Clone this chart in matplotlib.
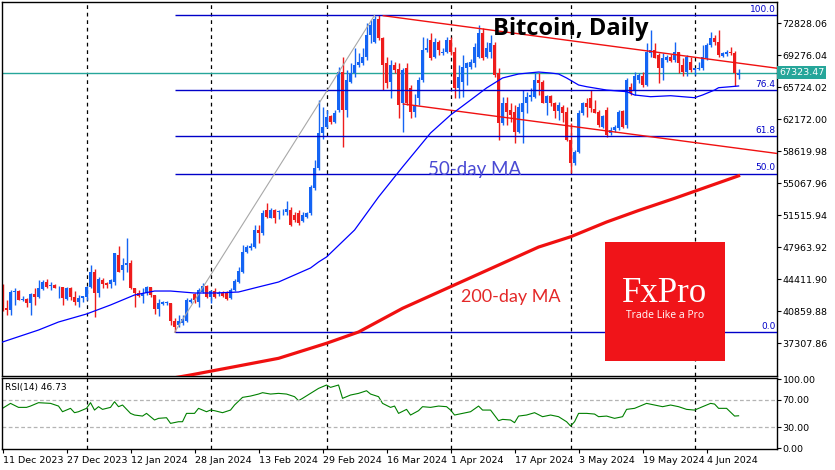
from matplotlib.patches import Rectangle
import matplotlib.pyplot as plt
import numpy as np

W,H=835,470
BULL='#1464F4'
BEAR='#EE1C1C'
FIB='#0000C8'
TEAL='#26A69A'

#Daily OHLC, 11 Dec 2023 .. 12 Jun 2024 (one bar per day).
opens=[43780,41190,41000,43040,43150,42110,42270,41740,42740,42480,
       43340,44070,43670,43780,43520,43600,42260,43410,42480,41860,
       42300,42480,43600,45260,42850,44330,43970,43900,44150,47110,
       45440,46000,46180,43410,42850,42560,42930,43520,42670,41080,
       41700,41750,41740,39820,39340,39600,39820,41930,42780,41930,
       43040,43670,42480,43150,42780,42930,42850,42300,43220,44150,
       45260,47480,47920,48030,49880,49510,52100,51250,52100,51900,
       51950,51920,52100,51600,51730,50920,51360,51730,54500,56730,
       60620,61350,62540,61910,63200,67460,63200,66350,67270,68200,
       68380,69120,71530,70790,73270,71160,68380,66350,68200,67720,
       63940,67830,65610,63020,64500,66530,69860,70970,69120,70790,
       69500,69680,70970,69680,65610,66350,67830,68010,68380,69120,
       71710,69120,69680,70400,67270,61720,63940,63200,63020,60800,
       63020,63940,64680,64680,66530,66350,64030,64760,64000,63130,
       63570,63020,59870,57280,58580,62830,63940,64500,63290,63020,
       61350,63200,60610,60980,61170,63110,61540,65790,65330,66530,
       67000,65980,69490,69860,69310,67830,68750,69120,68750,69600,
       68200,67460,68570,67640,67700,67830,68940,70420,71160,70790,
       69200,69400,69680,69490,67100]
highs=[43850,42100,43220,43410,43220,42560,42370,42850,43480,44330,
       44330,44440,44070,43930,43700,43600,43560,43560,43110,42670,
       42600,43700,46000,45560,44700,44520,44150,44500,47370,48100,
       46740,49030,46550,43450,43200,43410,43670,43600,42670,42230,
       41950,42000,41800,40080,40450,40450,42300,42300,42850,43410,
       43960,43780,43220,43400,43100,43100,43100,43400,44400,45820,
       48220,48220,48400,50440,50440,52100,52850,52290,52220,52100,
       52220,53100,52470,51900,52100,51920,51920,54880,57650,64310,
       63500,63200,62700,63200,68010,69120,67640,68380,70050,69490,
       70050,72820,73190,73640,73700,71340,69120,68750,68570,68380,
       67830,68380,65980,65000,66900,71340,71160,71700,71160,71000,
       70100,71300,71340,70230,68200,69310,68570,68900,70600,72640,
       72270,70790,71530,70800,67830,64680,64680,63940,63760,63940,
       65420,65240,65600,67270,67270,66530,64870,64900,64130,64130,
       63760,63570,61720,58760,63200,64130,64500,65420,64310,63200,
       62650,63570,61350,61500,63200,63200,66720,66160,67460,67270,
       67460,70600,72080,70600,69490,69490,69310,69400,70790,69680,
       68940,69310,69120,67900,68570,70420,70600,71900,71530,72080,
       69680,69860,70230,69750,67700]
lows=[40900,40450,40450,41560,42110,42000,41370,40450,41560,42300,
      43230,43410,43230,43410,42370,41560,42110,42110,41560,41370,
      41930,42110,43410,40260,42480,43410,43410,43500,43780,45260,
      44330,45260,43300,41300,42400,41740,42660,42480,40560,40300,
      41600,41600,39340,38530,39150,39340,39700,41800,41750,41370,
      42850,42300,41740,42300,42600,42400,42100,42200,43100,43960,
      45070,47300,47660,47850,48400,49330,51180,51180,50620,51100,
      51600,51550,50370,50800,50440,50810,51180,51550,54330,56500,
      60000,61170,61700,61720,63000,59130,62460,66160,66900,68010,
      68200,68750,70600,70600,70970,65420,65610,64500,67270,62280,
      60800,63760,62280,62460,63760,66350,69680,68800,68940,69300,
      69300,69500,69300,64500,64500,64680,65980,67800,68000,68940,
      68750,68940,68940,66900,59870,61540,61540,61910,59500,60610,
      59500,62830,64200,64500,64900,63940,62650,63700,62280,62090,
      61900,59800,56170,57100,58390,62650,62460,63020,62830,61350,
      61170,60240,60430,60800,60980,61170,61170,64870,64870,66160,
      65790,65900,69120,68940,66160,66530,68570,68570,68570,67270,
      67000,67000,67460,67100,67640,67640,68750,70230,70420,69120,
      69120,69240,69310,65870,66700]
closes=[41190,41000,43040,43150,42110,42270,41740,42740,42480,43480,
        44070,43600,43780,43410,43600,42300,43410,42480,41930,42300,
        42600,43600,45260,42850,44450,43850,43780,44300,47290,45260,
        46000,46180,43410,42850,42600,42930,43520,42670,41080,41740,
        41850,41860,39820,39150,39820,39970,42110,42110,42110,43220,
        43670,42410,43150,42480,42930,42560,42230,43220,44260,45370,
        47480,48030,48100,49880,49510,51730,51300,52100,51180,52030,
        52030,52220,50440,51000,50620,51600,51730,54690,56730,60610,
        61350,62460,61910,62830,67460,63200,66530,67270,68200,68500,
        69120,71530,72640,73270,71160,68200,66160,68200,67640,63760,
        67640,63940,63020,63760,66530,69860,70050,68940,70790,69860,
        69680,70970,69680,65610,66900,68010,68380,68570,70230,71710,
        68940,70050,70600,67090,61720,63940,63020,62650,60800,63570,
        63940,64680,64900,66530,66240,64030,64760,63940,63130,63760,
        62910,59870,57280,58580,62830,63940,63570,63390,62910,61540,
        62540,60430,60980,61350,63020,61350,66530,65050,66950,67090,
        65980,69680,69860,68940,67830,68940,69120,68640,69680,68380,
        67460,69120,67640,67830,67830,69120,70420,71160,70790,69310,
        69490,69680,69490,67270,67323.47]
last_price=67323.47

#50-day and 200-day moving averages (bar index, price).
ma50_idx=[0,9,14,21,27,33,38,42,48,53,59,64,69,73,77,79,81,88,94,100,107,112,117,121,
          125,129,134,137,139,141,144,146,151,156,158,162,167,173,175,178,179,182,184]
ma50_val=[37450,38780,39670,40560,41560,42670,43110,43110,42890,42890,43000,43560,44110,
          44890,45670,46330,46890,49880,53550,56880,60650,62650,64310,65650,66760,67200,
          67420,67310,67200,66760,65980,65790,65420,65240,64870,64680,64790,64570,64870,
          65420,65680,65790,65870]
ma200_idx=[40,47,58,69,81,89,100,112,125,134,142,151,159,168,184]
ma200_val=[33250,33790,34710,35640,37310,38560,41190,43590,46190,47990,49130,50770,
           52050,53400,55900]

#Fibonacci retracement 0..100 from 23 Jan low to 14 Mar high.
fib_idx=[43,93]
fib_price=[38530,73716]
fib_levels=[0.0,50.0,61.8,76.4,100.0]

#Descending channel.
chan_up_idx=[95.2,193.6]
chan_up_val=[73670,67840]
chan_lo_idx=[100.2,193.6]
chan_lo_val=[63870,58380]

#RSI(14).
rsi_idx=[0,2,4,6,7,9,12,14,15,17,18,19,21,22,23,24,25,27,28,29,30,32,33,35,36,38,39,41,
         42,44,45,46,48,49,51,52,53,55,57,58,60,62,64,65,67,69,71,73,74,75,77,79,81,82,
         84,85,87,89,91,92,94,95,97,98,99,101,102,104,105,107,109,111,112,113,115,117,
         119,120,122,124,125,127,128,129,131,133,135,137,139,141,142,143,144,146,148,149,
         151,153,155,156,158,161,163,165,167,169,171,173,175,177,178,179,181,183,184]
rsi_val=[57.5,64.7,58.9,58.9,60.8,65.7,64.7,60.8,52.6,57.5,51.2,52.6,57.5,65.7,55,59.9,
         56,58.9,67.1,59.9,62.3,50.2,47.8,46.3,50.2,40.6,43,43.9,35.7,38.1,38.1,50.2,50.2,
         57.5,52.6,55,54.1,51.2,55,62.3,73.4,75.3,78.2,80.2,78.2,79.2,78.2,74.4,68.6,72,
         79.2,86.4,91.3,87.9,91.3,72,76.8,79.2,83,78.2,74.4,64.7,58.9,60.8,50.2,56,47.8,
         54.1,59.9,58.9,60.8,59.9,55,47.8,50.2,52.6,60.8,55,55,39.6,41.5,40.6,36.7,46.3,
         47.8,51.2,45.4,47.8,45.4,38.1,31.9,38.1,50.2,50.2,49.2,45.4,46.3,43,45.4,56,57.5,
         64.7,62.3,59.9,62.3,59.9,56,55,59.9,64.7,63.7,57.5,57.5,46.3,46.73]

month_starts=[21,52,81,112,142,173]
date_ticks=[0,16,32,48,64,80,96,112,128,144,160,176]
date_labels=['11 Dec 2023','27 Dec 2023','12 Jan 2024','28 Jan 2024','13 Feb 2024','29 Feb 2024',
             '16 Mar 2024','1 Apr 2024','17 Apr 2024','3 May 2024','19 May 2024','4 Jun 2024']
price_ticks=[37307.86+3552.02*k for k in range(11)]

XMIN,XMAX=-0.125,193.6

fig=plt.figure(figsize=(W/100,H/100),dpi=100)
def px_axes(x0,y0,x1,y1):
    return fig.add_axes([x0/W,1-y1/H,(x1-x0)/W,(y1-y0)/H])
ax=px_axes(2,2,777,375.5)
ax_rsi=px_axes(2,377.5,777,448.7)
for a in (ax,ax_rsi):
    a.set_xlim(XMIN,XMAX)
    for s in a.spines.values():
        s.set_color('black');s.set_linewidth(1)
    for m in month_starts:
        a.axvline(m,color='black',lw=0.9,ls=(0,(3,3)),zorder=1)

#Candles.
o,h,l,c=map(np.array,(opens,highs,lows,closes))
idx=np.arange(len(c))
col=np.where(c>=o,BULL,BEAR)
ax.vlines(idx,l,h,colors=col,lw=1,zorder=2)
ax.bar(idx,np.maximum(np.abs(c-o),90),bottom=np.minimum(o,c),width=0.74,color=col,lw=0,zorder=2)

#Fibonacci.
lo,hi=fib_price
for lv in fib_levels:
    p=lo+(hi-lo)*lv/100
    ax.hlines(p,fib_idx[0],XMAX,color=FIB,lw=1,zorder=3)
    ax.text(XMAX-0.4,p+150,f'{lv:.1f}',ha='right',va='bottom',color=FIB,fontsize=6.5,zorder=3)
ax.plot(fib_idx,fib_price,color='#A8A8A8',lw=0.8,zorder=3)

#Channel and MAs.
ax.plot(chan_up_idx,chan_up_val,color='#F01010',lw=1,zorder=3)
ax.plot(chan_lo_idx,chan_lo_val,color='#F01010',lw=1,zorder=3)
ax.plot(ma50_idx,ma50_val,color='#0000FF',lw=0.9,zorder=3)
ax.plot(ma200_idx,ma200_val,color='#F01010',lw=2.3,zorder=3)

#Current price.
ax.axhline(last_price,color=TEAL,lw=1,zorder=1)
ax.text(1.003,last_price,f'{last_price:.2f}',transform=ax.get_yaxis_transform(),ha='left',va='center',
        color='white',fontsize=6.8,bbox=dict(boxstyle='square,pad=0.2',fc=TEAL,ec='none'),zorder=5,clip_on=False)

ax.set_ylim(33733,75192)
ax.set_xticks([])
ax.set_yticks(price_ticks)
ax.set_yticklabels([f'{v:.2f}' for v in price_ticks])
ax.yaxis.tick_right()
ax.tick_params(axis='y',length=3,pad=1,labelsize=6.8,width=0.8)

fig.text(493/W,1-29/H,'Bitcoin, Daily',fontsize=17,fontweight='bold',family='Open Sans',
         ha='left',va='center')
fig.text(428/W,1-170/H,'50-day MA',fontsize=13.5,family='Lato',color='#4A4AD4',va='center',ha='left')
fig.text(461/W,1-297/H,'200-day MA',fontsize=13,family='Lato',color='#E42828',va='center',ha='left')

#RSI panel.
ax_rsi.plot(rsi_idx,rsi_val,color='#008000',lw=0.8)
for lvl in (30,70):
    ax_rsi.axhline(lvl,color='#B4B4B4',lw=0.9,ls=(0,(3,2)))
ax_rsi.set_ylim(-1,102.2)
ax_rsi.set_yticks([0,30,70,100])
ax_rsi.set_yticklabels(['0.00','30.00','70.00','100.00'])
ax_rsi.yaxis.tick_right()
ax_rsi.tick_params(axis='y',length=3,pad=1,labelsize=6.8,width=0.8)
ax_rsi.set_xticks(date_ticks)
ax_rsi.set_xticklabels(date_labels,ha='left')
ax_rsi.tick_params(axis='x',length=3,pad=2,labelsize=6.8,width=0.8)
ax_rsi.text(0.004,0.86,f'RSI(14) {rsi_val[-1]:.2f}',transform=ax_rsi.transAxes,fontsize=6.5,va='center')

#FxPro badge.
fig.patches.append(Rectangle((605/W,1-361/H),120/W,119/H,transform=fig.transFigure,
                             fc='#F01419',ec='none',zorder=5))
fig.text(665/W,1-293/H,'FxPro',family='Liberation Serif',fontsize=25,color='white',
         ha='center',va='center',zorder=6)
fig.text(665/W,1-316/H,'Trade Like a Pro',family='Open Sans',fontsize=7.5,color='white',
         ha='center',va='center',zorder=6)

fig.savefig('out.png',dpi=100,facecolor='white')
